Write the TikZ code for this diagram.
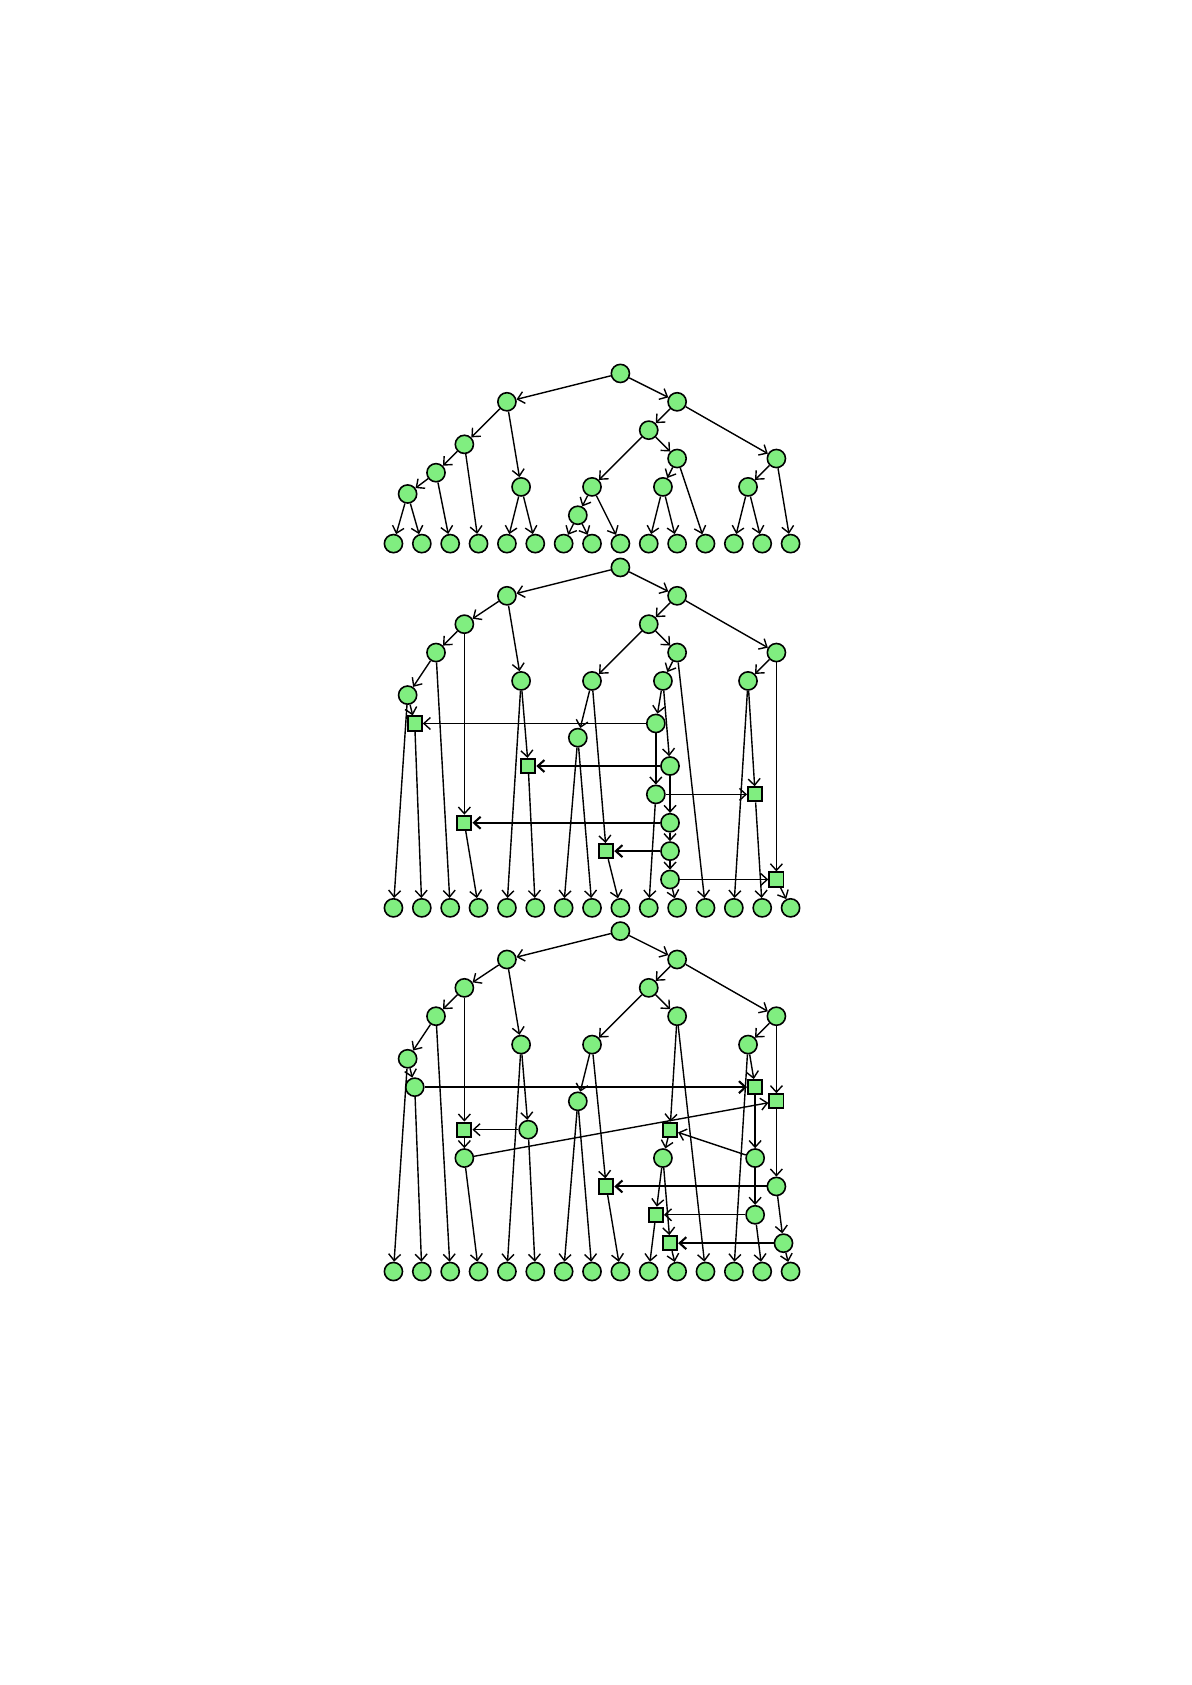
\documentclass[tikz,border=0pt]{standalone}
\usetikzlibrary{arrows.meta}
\definecolor{nodegreen}{RGB}{128,238,128}
\begin{document}
\begin{tikzpicture}
[circledecorate/.style={shape=circle,minimum size=0.32cm,inner sep=0pt,draw,line width=0.8pt,fill=nodegreen},%
  squaredecorate/.style={shape=rectangle,minimum size=0.25cm,inner sep=0pt,draw,line width=1pt,fill=nodegreen},%
  arrowdecorate/.style={->,line width=0.7pt},%
  heavydecorate/.style={->,line width=1.05pt},%
  >={Straight Barb[length=3.3pt,width=6pt]}, x=0.5cm, y=-0.5cm]
\useasboundingbox (-6.935cm,6.582cm) rectangle (14.065cm,-23.118cm);
%% first tree
\foreach \nodename/\x/\y in {r/8/0, a/4/1, b/10/1, c/9/2, e/2.5/2.5, d/13.5/3,
  f/10/3, g/1.5/3.5, h/4.5/4, i/7/4, j/9.5/4, k/12.5/4, l/0.5/4.25, m/6.5/5}
{
  \node (t1\nodename) at (\x,\y) [circledecorate] {};
}
\foreach \i in {0,...,14}
{
  \node (t1x\i) at (\i,6) [circledecorate] {};
}
\path
\foreach \startnode/\endnode in {r/a, r/b, a/e, a/h, e/g, e/x3, g/l, g/x2,
  l/x0, l/x1, h/x4, h/x5, b/c, b/d, c/i, c/f, i/m, i/x8, m/x6, m/x7,
  f/j, f/x11, j/x9, j/x10, d/k, d/x14, k/x12, k/x13}
{
  (t1\startnode) edge[arrowdecorate] (t1\endnode)
};
%% second tree
\begin{scope}[yshift=-3.42cm]
\foreach \nodename/\x/\y in {r/8/0, a/4/1, b/10/1, c/9/2, e/2.5/2, d/13.5/3,
  f/10/3, g/1.5/3, h/4.5/4, i/7/4, j/9.5/4, k/12.5/4, l/0.5/4.5, m/6.5/6,
  n1/9.25/5.5, n2/9.75/7, n3/9.25/8, n4/9.75/9, n5/9.75/10, n6/9.75/11}
{
  \node (t2\nodename) at (\x,\y) [circledecorate] {};
}
\foreach \nodename/\x/\y in {s1/0.75/5.5, s2/4.75/7, s3/12.75/8, s4/2.5/9,
  s5/7.5/10, s6/13.5/11}
{
  \node (t2\nodename) at (\x,\y) [squaredecorate] {};
}
\foreach \i in {0,...,14}
{
  \node (t2x\i) at (\i,12) [circledecorate] {};
}
\path
\foreach \startnode/\endnode in {r/a, r/b, a/e, a/h, e/g, e/s4, g/l, g/x2,
  l/x0, l/s1, s1/x1, h/x4, h/s2, s2/x5, b/c, b/d, c/i, c/f, i/m, i/s5,
  m/x6, m/x7, s5/x8, f/j, f/x11, j/n1, j/n2, n1/s1, n1/n3, n2/n4, n3/s3,
  n3/x9, n4/n5, n5/n6, n6/s6, n6/x10, s4/x3, d/k, d/s6, k/x12, k/s3,
  s3/x13, s6/x14}
{
  (t2\startnode) edge[arrowdecorate] (t2\endnode)
};
\path
\foreach \startnode/\endnode in {n2/s2, n4/s4, n5/s5}
{
  (t2\startnode) edge[heavydecorate] (t2\endnode)
};
\end{scope}
%% third tree
\begin{scope}[yshift=-9.83cm]
\foreach \nodename/\x/\y in {r/8/0, a/4/1, b/10/1, c/9/2, e/2.5/2, d/13.5/3,
  f/10/3, g/1.5/3, h/4.5/4, i/7/4, k/12.5/4, l/0.5/4.5, m/6.5/6,
  p1/0.75/5.5, p2/4.75/7, p3/2.5/8, p4/12.75/8, p5/13.5/9, p6/12.75/10,
  p7/13.75/11, p8/9.5/8}
{
  \node (t3\nodename) at (\x,\y) [circledecorate] {};
}
\foreach \nodename/\x/\y in {q1/12.75/5.5, q2/2.5/7, q3/13.5/6, q4/9.75/7,
  q5/7.5/9, q6/9.25/10, q7/9.75/11}
{
  \node (t3\nodename) at (\x,\y) [squaredecorate] {};
}
\foreach \i in {0,...,14}
{
  \node (t3x\i) at (\i,12) [circledecorate] {};
}
\path
\foreach \startnode/\endnode in {r/a, r/b, a/e, a/h, e/g, e/q2, g/l, g/x2,
  l/x0, l/p1, p1/x1, h/x4, h/p2, p2/q2, p2/x5, q2/p3, p3/q3, p3/x3, b/c,
  b/d, c/i, c/f, i/m, i/q5, m/x6, m/x7, q5/x8, f/q4, f/x11, q4/p8, p8/q6,
  p8/q7, q6/x9, q7/x10, d/k, d/q3, k/x12, k/q1, q1/p4, p4/q4, p4/p6,
  p6/q6, p6/x13, q3/p5, p5/p7, p7/x14}
{
  (t3\startnode) edge[arrowdecorate] (t3\endnode)
};
\path
\foreach \startnode/\endnode in {p1/q1, p5/q5, p7/q7}
{
  (t3\startnode) edge[heavydecorate] (t3\endnode)
};
\end{scope}
\end{tikzpicture}
\end{document}
